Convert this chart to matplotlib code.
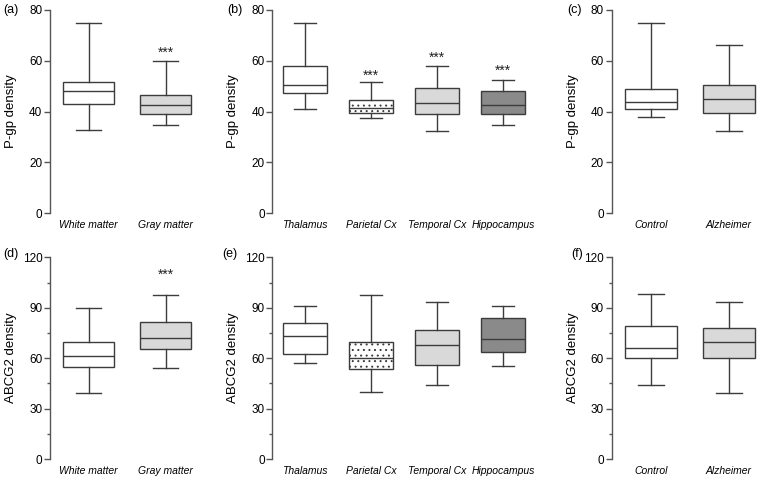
import matplotlib.pyplot as plt
from matplotlib.ticker import MultipleLocator

plt.rcParams['font.family'] = ['Liberation Sans', 'DejaVu Sans']
plt.rcParams['hatch.linewidth'] = 0.7
plt.rcParams['hatch.color'] = '#555555'

# box stats per box: [whisker low, Q1, median, Q3, whisker high]
tissue_labels = ['White matter', 'Gray matter']
region_labels = ['Thalamus', 'Parietal Cx', 'Temporal Cx', 'Hippocampus']
group_labels = ['Control', 'Alzheimer']

pgp_tissue = [[32.7, 42.8, 48.0, 51.7, 74.9],
              [34.5, 39.1, 42.5, 46.5, 59.8]]
pgp_region = [[40.9, 47.2, 50.3, 57.8, 74.8],
              [37.4, 39.3, 41.3, 44.4, 51.6],
              [32.2, 38.9, 43.5, 49.1, 58.0],
              [34.5, 38.9, 42.5, 48.0, 52.5]]
pgp_group = [[37.8, 40.8, 43.8, 48.7, 74.7],
             [32.3, 39.3, 45.1, 50.4, 66.4]]

abcg2_tissue = [[39.5, 54.7, 61.1, 69.8, 90.0],
                [54.3, 65.4, 71.8, 81.3, 97.4]]
abcg2_region = [[57.2, 62.2, 73.3, 80.9, 91.2],
                [39.7, 53.7, 59.9, 69.4, 97.8],
                [44.1, 56.0, 67.9, 76.8, 93.2],
                [55.6, 63.4, 71.6, 83.8, 90.8]]
abcg2_group = [[44.1, 60.0, 66.1, 78.9, 98.2],
               [39.5, 60.0, 69.8, 77.7, 93.4]]

# significance marks (***): y position in data units, None = no mark
pgp_tissue_sig = [None, 63.0]
pgp_region_sig = [None, 54.2, 61.3, 55.9]
pgp_group_sig = [None, None]
abcg2_tissue_sig = [None, 109.7]
abcg2_region_sig = [None, None, None, None]
abcg2_group_sig = [None, None]

W = 760
H = 478
line_col = '#3c3c3c'
spine_col = '#555555'
fill_two = ['white', '#d9d9d9']
fill_four = ['white', 'white', '#d9d9d9', '#8a8a8a']
hatch_four = [None, '...', None, None]

fig = plt.figure(figsize=(W / 100, H / 100), dpi=100)


def add_panel(left, right, top, bottom, xmax, labels, stats, sigs, fills, hatches,
              ylabel, ymax, major, minor, letter, letter_x, letter_y):
    ax = fig.add_axes([left / W, 1 - bottom / H, (right - left) / W, (bottom - top) / H])
    bx = []
    for lab, s in zip(labels, stats):
        bx.append({'label': lab, 'whislo': s[0], 'q1': s[1], 'med': s[2],
                   'q3': s[3], 'whishi': s[4], 'fliers': []})
    props = dict(color=line_col, linewidth=1.0)
    res = ax.bxp(bx, positions=range(1, len(bx) + 1), widths=0.67, patch_artist=True,
                 showfliers=False, boxprops=dict(edgecolor=line_col, linewidth=1.0),
                 whiskerprops=props, capprops=props, medianprops=props)
    for patch, fc, h in zip(res['boxes'], fills, hatches):
        patch.set_facecolor(fc)
        if h:
            patch.set_hatch(h)
    for i, sy in enumerate(sigs):
        if sy is not None:
            ax.text(i + 1, sy, '***', ha='center', va='center', fontsize=10, color='#222222')
    ax.set_xlim(0.5, xmax)
    ax.set_ylim(0, ymax)
    ax.yaxis.set_major_locator(MultipleLocator(major))
    if minor:
        ax.yaxis.set_minor_locator(MultipleLocator(minor))
    for sp in ['top', 'right', 'bottom']:
        ax.spines[sp].set_visible(False)
    ax.spines['left'].set_color(spine_col)
    ax.spines['left'].set_linewidth(1.0)
    ax.tick_params(axis='y', which='major', length=4, width=1.0, color=spine_col,
                   labelsize=8.5, pad=1.5)
    ax.tick_params(axis='y', which='minor', length=2.5, width=1.0, color=spine_col)
    ax.tick_params(axis='x', length=0, pad=5)
    for t in ax.get_xticklabels():
        t.set_fontstyle('italic')
        t.set_fontsize(7.5)
    ax.set_ylabel(ylabel, fontsize=9.5)
    # label sits ~33 px left of the spine
    ax.yaxis.set_label_coords(-33 / (right - left), 0.5)
    fig.text(letter_x / W, 1 - letter_y / H, letter, fontsize=9, va='center', ha='left')
    return ax


top_t, top_b = 10, 213
bot_t, bot_b = 257.3, 459

add_panel(50, 204, top_t, top_b, 2.5, tissue_labels, pgp_tissue, pgp_tissue_sig,
          fill_two, [None, None], 'P-gp density', 80, 20, None, '(a)', 3, 10)
add_panel(272.3, 536.3, top_t, top_b, 4.5, region_labels, pgp_region, pgp_region_sig,
          fill_four, hatch_four, 'P-gp density', 80, 20, None, '(b)', 227, 10)
add_panel(611.7, 760, top_t, top_b, 2.4, group_labels, pgp_group, pgp_group_sig,
          fill_two, [None, None], 'P-gp density', 80, 20, None, '(c)', 567, 10)

add_panel(50, 204, bot_t, bot_b, 2.5, tissue_labels, abcg2_tissue, abcg2_tissue_sig,
          fill_two, [None, None], 'ABCG2 density', 120, 30, 15, '(d)', 3, 254)
add_panel(272.3, 536.3, bot_t, bot_b, 4.5, region_labels, abcg2_region, abcg2_region_sig,
          fill_four, hatch_four, 'ABCG2 density', 120, 30, 15, '(e)', 222, 254)
add_panel(611.7, 760, bot_t, bot_b, 2.4, group_labels, abcg2_group, abcg2_group_sig,
          fill_two, [None, None], 'ABCG2 density', 120, 30, 15, '(f)', 571, 254)

fig.savefig('out.png', dpi=100)
